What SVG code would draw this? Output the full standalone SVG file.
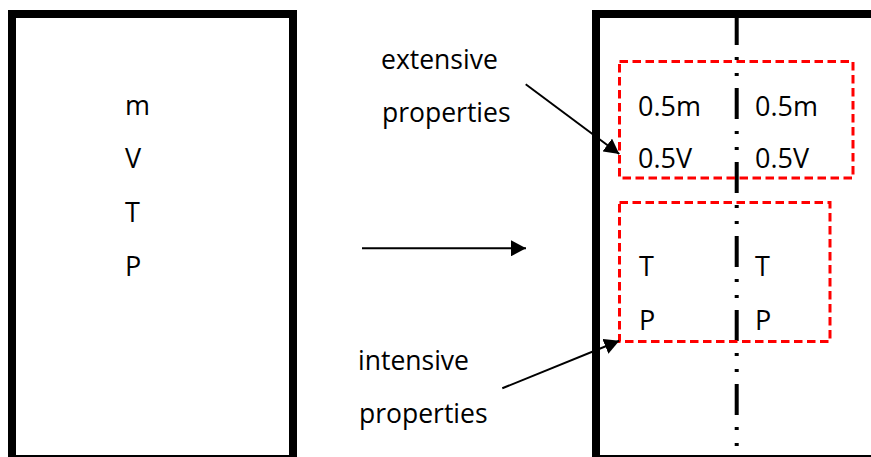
<svg xmlns="http://www.w3.org/2000/svg" width="871" height="457" viewBox="0 0 871 457">
  <style>
    .box { fill: none; stroke: #000; stroke-width: 8; }
    .red { fill: none; stroke: #ff0000; stroke-width: 3; stroke-dasharray: 8.5 4.5; }
    .axis { stroke: #000; stroke-width: 4; stroke-dasharray: 31 12 3 13 3 12; }
    .conn { stroke: #000; stroke-width: 2; fill: none; marker-end: url(#ah); }
    text { font-family: "Open Sans", "Liberation Sans", sans-serif; font-size: 27px; fill: #000; }
    .lbl { font-size: 26.5px; }
  </style>
  <defs>
    <marker id="ah" viewBox="0 0 15 16" refX="15" refY="8" markerWidth="15" markerHeight="16" markerUnits="userSpaceOnUse" orient="auto">
      <path d="M0,0 L15,8 L0,16 z" fill="#000"/>
    </marker>
  </defs>
  <rect width="871" height="457" fill="#fff"/>

  <g id="left-system">
    <rect class="box" x="12" y="14" width="281" height="445"/>
    <text x="125" y="115">m</text>
    <text x="125" y="168">V</text>
    <text x="125" y="222">T</text>
    <text x="125" y="276">P</text>
  </g>

  <g id="right-system">
    <rect class="box" x="596" y="14" width="300" height="445"/>
    <line class="axis" x1="736.7" y1="14" x2="736.7" y2="455"/>
  </g>

  <g id="extensive-box">
    <rect class="red" x="619.5" y="61.5" width="233.5" height="116.5"/>
    <text x="638" y="116">0.5m</text>
    <text x="638" y="168">0.5V</text>
    <text x="755" y="116">0.5m</text>
    <text x="755" y="168">0.5V</text>
  </g>

  <g id="intensive-box">
    <rect class="red" x="619.5" y="202.5" width="210.5" height="139"/>
    <text x="639" y="276">T</text>
    <text x="639" y="330">P</text>
    <text x="755" y="276">T</text>
    <text x="755" y="330">P</text>
  </g>

  <g id="extensive-label">
    <text class="lbl" x="381" y="69">extensive</text>
    <text class="lbl" x="382" y="122">properties</text>
  </g>

  <g id="intensive-label">
    <text class="lbl" x="358" y="370">intensive</text>
    <text class="lbl" x="359" y="423">properties</text>
  </g>

  <g id="connectors">
    <line class="conn" x1="362" y1="248.3" x2="526" y2="248.3"/>
    <line class="conn" x1="525.7" y1="84.3" x2="619.3" y2="154"/>
    <line class="conn" x1="502.3" y1="388.3" x2="619.3" y2="340.7"/>
  </g>
</svg>
